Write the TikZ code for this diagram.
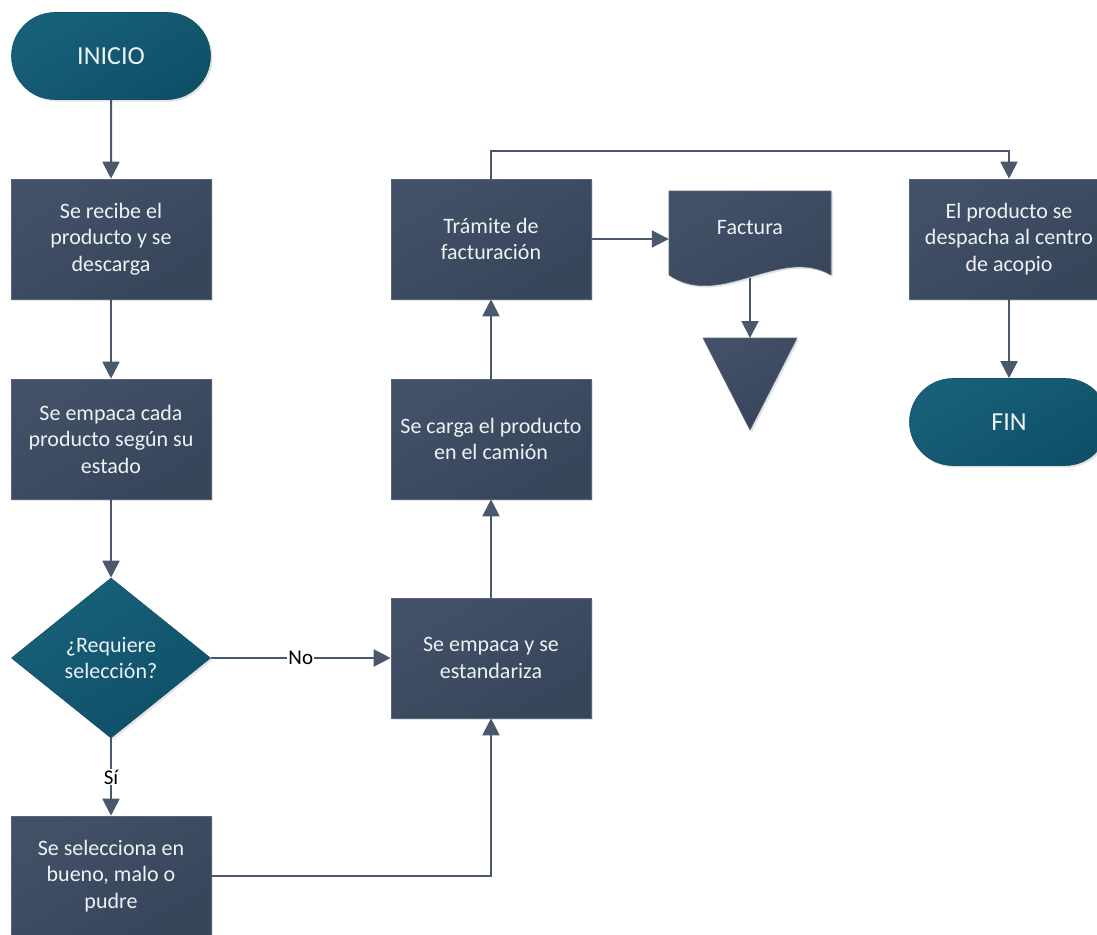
\documentclass[tikz,border=0pt]{standalone}
\usepackage{fontspec}
\setmainfont{Carlito}
\usetikzlibrary{arrows.meta,shapes.geometric,shapes.misc,shadows}

\definecolor{slateA}{HTML}{425167}
\definecolor{slateB}{HTML}{36455A}
\definecolor{slateEdge}{HTML}{56657A}
\definecolor{tealA}{HTML}{186079}
\definecolor{tealB}{HTML}{0F5068}
\definecolor{wire}{HTML}{4A586C}
\definecolor{ink}{HTML}{EEF2F5}

\begin{document}
\begin{tikzpicture}[x=1pt,y=-1pt,
  shade/.style={drop shadow={opacity=0.22,shadow xshift=2pt,shadow yshift=-2pt}},
  txt/.style={font=\fontsize{22}{26.5}\selectfont, text=ink, align=center},
  slatefill/.style={top color=slateA, bottom color=slateB, shading angle=30},
  tealfill/.style={top color=tealA, bottom color=tealB, shading angle=30},
  proc/.style={txt, shade, slatefill, draw=slateEdge, line width=0.6pt,
    rectangle, minimum width=200pt, minimum height=120pt, inner sep=0pt},
  term/.style={txt, shade, tealfill, draw=tealB, line width=0.6pt,
    rounded rectangle, minimum width=199pt, minimum height=87pt, inner sep=0pt,
    font=\fontsize{26}{30}\selectfont},
  decision/.style={txt, shade, tealfill, draw=tealB, line width=0.6pt,
    diamond, aspect=1.24, minimum width=199pt, minimum height=160pt, inner sep=0pt},
  conn/.style={draw=wire, line width=2pt,
    -{Triangle[width=17pt,length=17pt]}},
  lbl/.style={font=\fontsize{21}{24}\selectfont, text=black, fill=white, inner sep=1pt}
]
\useasboundingbox (0,0) rectangle (1097,934);
\clip (0,0) rectangle (1097,934);

% left column
\node[term] (inicio) at (111,56) {INICIO};
\node[proc] (recibe) at (111,239) {Se recibe el\\producto y se\\descarga};
\node[proc] (empaca) at (111,439) {Se empaca cada\\producto según su\\estado};
\node[decision] (requiere) at (111,658) {¿Requiere\\selección?};
\node[proc] (selecciona) at (111,876) {Se selecciona en\\bueno, malo o\\pudre};

% middle column
\node[proc] (estandariza) at (491,658) {Se empaca y se\\estandariza};
\node[proc] (carga) at (491,439) {Se carga el producto\\en el camión};
\node[proc] (tramite) at (491,239) {Trámite de\\facturación};

% invoice document and off-page marker
\path[shade, slatefill, draw=slateEdge, line width=0.6pt]
  (669,191) -- (831,191) -- (831,275)
  .. controls (780,245) and (720,310) .. (669,275) -- cycle;
\node[minimum width=162pt, minimum height=84pt, inner sep=0pt] (factura) at (750,233) {};
\node[txt] (facturatxt) at (750,228) {Factura};
\path[shade, slatefill, draw=slateEdge, line width=0.6pt]
  (703,338) -- (797,338) -- (750,430) -- cycle;
\coordinate (archivo) at (750,338);

% right column
\node[proc] (despacha) at (1009,239) {El producto se\\despacha al centro\\de acopio};
\node[term] (fin) at (1009,422) {FIN};

% connectors
\draw[conn] (inicio) -- (recibe);
\draw[conn] (recibe) -- (empaca);
\draw[conn] (empaca) -- (requiere);
\draw[conn] (requiere) -- node[lbl] {No} (estandariza);
\draw[conn] (requiere) -- node[lbl] {Sí} (selecciona);
\draw[conn] (selecciona.east) -| (estandariza.south);
\draw[conn] (estandariza) -- (carga);
\draw[conn] (carga) -- (tramite);
\draw[conn] (tramite.east) -- (tramite.east -| factura.west);
\draw[conn] ([yshift=-3pt]factura.south) -- (archivo);
\draw[conn] (tramite.north) -- ++(0,-28) -| (despacha.north);
\draw[conn] (despacha) -- (fin);
\end{tikzpicture}
\end{document}
